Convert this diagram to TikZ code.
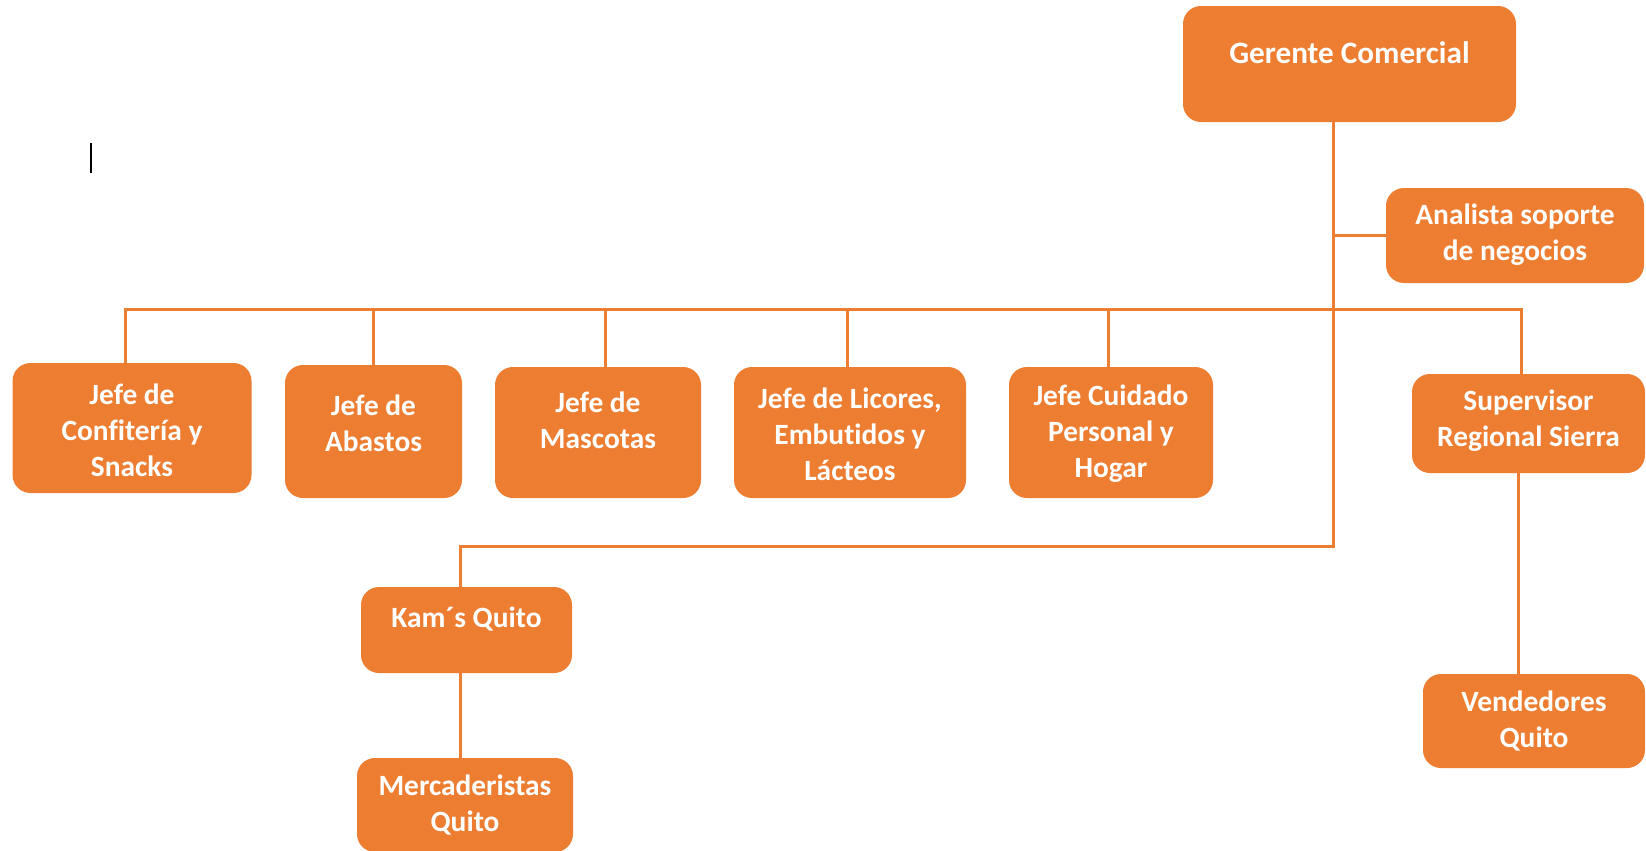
\documentclass[tikz,border=0pt]{standalone}
\usepackage{fontspec}
\setmainfont{Carlito}[Ligatures=NoCommon]
\definecolor{accent}{HTML}{ED7D31}
\tikzset{
  unit/.style={x=0.5pt,y=-0.5pt},
  orgbox/.style={rectangle, rounded corners=9pt, fill=accent, draw=none, inner sep=0pt},
  lbl/.style={text=white, font=\bfseries\fontsize{14.7}{18}\selectfont, align=center, inner sep=0pt},
  biglbl/.style={lbl, font=\bfseries\fontsize{15.6}{18}\selectfont},
  link/.style={draw=accent, line width=1.5pt}
}
\begin{document}
\begin{tikzpicture}[unit]
\useasboundingbox (0,0) rectangle (1646,851);

% boxes
\node[orgbox, minimum width=166.5pt, minimum height=58pt] (gerente) at (1349.5,64) {};
\node[orgbox, minimum width=129pt, minimum height=47.5pt] (analista) at (1515,235.5) {};
\node[orgbox, minimum width=119.5pt, minimum height=65pt] (confiteria) at (132,428) {};
\node[orgbox, minimum width=88.5pt, minimum height=66.5pt] (abastos) at (373.5,431.5) {};
\node[orgbox, minimum width=103pt, minimum height=65.5pt] (mascotas) at (598,432.5) {};
\node[orgbox, minimum width=116pt, minimum height=65.5pt] (licores) at (850,432.5) {};
\node[orgbox, minimum width=102pt, minimum height=65.5pt] (cuidado) at (1111,432.5) {};
\node[orgbox, minimum width=116.5pt, minimum height=49.5pt] (supervisor) at (1528.5,423.5) {};
\node[orgbox, minimum width=111pt, minimum height=47pt] (vendedores) at (1534,721) {};
\node[orgbox, minimum width=105.5pt, minimum height=43pt] (kam) at (466.5,630) {};
\node[orgbox, minimum width=108pt, minimum height=47pt] (mercaderistas) at (465,805) {};

% labels
\node[biglbl] (gerente-t) at (1349.5,53) {Gerente Comercial};
\node[lbl] (analista-t) at (1515,235) {Analista soporte\\de negocios};
\node[lbl] (confiteria-t) at (132,430) {Jefe de\\Confitería y\\Snacks};
\node[lbl] (abastos-t) at (373.5,423) {Jefe de\\Abastos};
\node[lbl] (mascotas-t) at (598,420) {Jefe de\\Mascotas};
\node[lbl] (licores-t) at (850,434) {Jefe de Licores,\\Embutidos y\\Lácteos};
\node[lbl] (cuidado-t) at (1111,434) {Jefe Cuidado\\Personal y\\Hogar};
\node[lbl] (supervisor-t) at (1528.5,421) {Supervisor\\Regional Sierra};
\node[lbl] (vendedores-t) at (1534,721) {Vendedores\\Quito};
\node[lbl] (kam-t) at (466.5,619) {Kam´s Quito};
\node[lbl] (mercaderistas-t) at (465,805) {Mercaderistas\\Quito};

% junction points of the connector tree
\coordinate (trunk) at (1333,309);
\coordinate (kamturn) at (1333,546);
\coordinate (barL) at (125,309);
\coordinate (barR) at (1521,309);

% connectors
\draw[link] ([xshift=-8.25pt]gerente.south) -- (kamturn) -| ([xshift=-3.25pt]kam.north);
\draw[link] (analista.west -| trunk) -- (analista.west);
\draw[link] ([xshift=-3.5pt]confiteria.north) |- (barR) -- ([xshift=-3.75pt]supervisor.north);
\draw[link] (abastos.north) -- (abastos.north |- trunk);
\draw[link] ([xshift=3.5pt]mascotas.north) -- ([xshift=3.5pt]mascotas.north |- trunk);
\draw[link] ([xshift=-1.5pt]licores.north) -- ([xshift=-1.5pt]licores.north |- trunk);
\draw[link] ([xshift=-1.5pt]cuidado.north) -- ([xshift=-1.5pt]cuidado.north |- trunk);
\draw[link] ([xshift=-3pt]kam.south) -- ([xshift=-3pt]kam.south |- mercaderistas.north);
\draw[link] ([xshift=-5pt]supervisor.south) -- ([xshift=-5pt]supervisor.south |- vendedores.north);

% text cursor
\coordinate (cursorTop) at (91,143);
\coordinate (cursorBot) at (91,173);
\draw[black, line width=1pt] (cursorTop) -- (cursorBot);
\end{tikzpicture}
\end{document}
